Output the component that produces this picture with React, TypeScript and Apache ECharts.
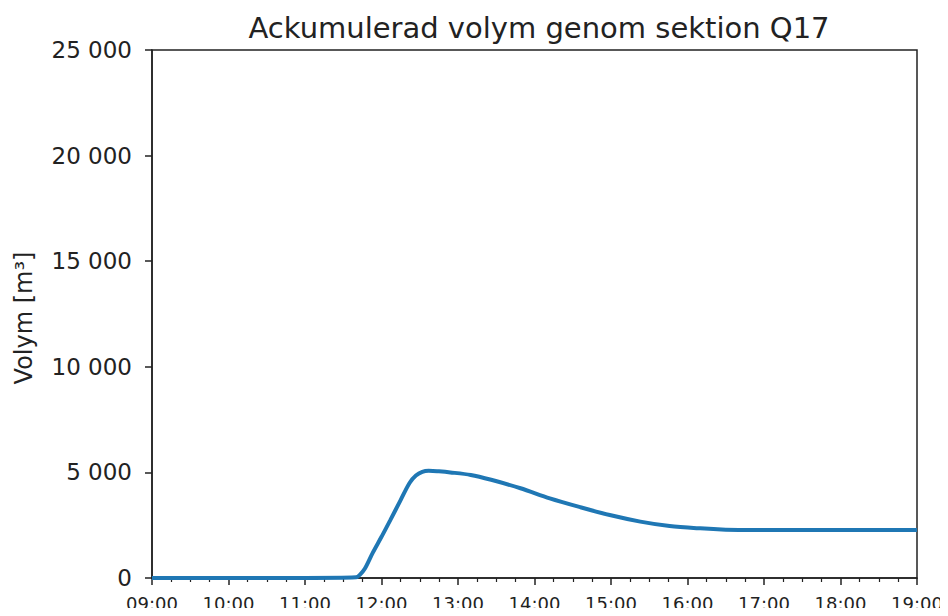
import React, { useEffect, useRef } from "react";
import * as echarts from "echarts";

const TITLE = "Ackumulerad volym genom sektion Q17";
const Y_NAME = "Volym [m³]";
const times = [
  "09:00", "11:00", "11:40", "11:43", "11:47", "11:53", "12:00", "12:07",
  "12:15", "12:22", "12:27", "12:32", "12:37", "12:45", "12:54", "13:10",
  "13:26", "13:49", "14:12", "14:36", "14:59", "15:23", "15:46", "16:10",
  "16:30", "16:50", "17:30", "19:00",
];
const volume = [
  0, 0, 30, 150, 450, 1180, 1950, 2750,
  3690, 4500, 4850, 5030, 5080, 5050, 5000, 4880,
  4650, 4250, 3770, 3350, 2980, 2670, 2460, 2350,
  2290, 2270, 2270, 2270,
];
const yTicks = [0, 5000, 10000, 15000, 20000, 25000];

const toHours = (t: string) => {
  const [h, m] = t.split(":").map(Number);
  return h + m / 60;
};

export default function App() {
  const ref = useRef<HTMLDivElement>(null);
  useEffect(() => {
    if (!ref.current) return;
    const chart = echarts.init(ref.current, undefined, { renderer: "svg" });
    const font = "DejaVu Sans";
    chart.setOption({
      animation: false,
      backgroundColor: "#fff",
      title: {
        text: TITLE,
        left: 534,
        textAlign: "center",
        top: 8,
        textStyle: { fontFamily: font, fontSize: 29, fontWeight: "normal", color: "#222" },
      },
      grid: {
        left: 152, right: 31, top: 50, bottom: 38,
        show: true, borderColor: "#222", borderWidth: 1.5, backgroundColor: "transparent",
      },
      graphic: [
        {
          type: "text",
          x: 24,
          y: 318,
          rotation: Math.PI / 2,
          style: {
            text: Y_NAME,
            font: `24px "${font}"`,
            fill: "#222",
            align: "center",
            verticalAlign: "middle",
          },
        },
      ],
      xAxis: {
        type: "value",
        min: 9,
        max: 19,
        interval: 1,
        axisLine: { show: true, lineStyle: { color: "#222", width: 1.5 } },
        axisTick: { show: true, inside: false, length: 7, lineStyle: { color: "#222", width: 1.5 } },
        minorTick: { show: true, splitNumber: 4, length: 4, lineStyle: { color: "#222", width: 1.2 } },
        splitLine: { show: false },
        axisLabel: {
          fontFamily: font, fontSize: 18, color: "#222", margin: 16,
          formatter: (v: number) => `${String(Math.round(v)).padStart(2, "0")}:00`,
        },
      },
      yAxis: {
        type: "value",
        min: 0,
        max: yTicks[yTicks.length - 1],
        interval: 5000,
        axisLine: { show: true, lineStyle: { color: "#222", width: 1.5 } },
        axisTick: { show: true, inside: false, length: 7, lineStyle: { color: "#222", width: 1.5 } },
        splitLine: { show: false },
        axisLabel: {
          fontFamily: font, fontSize: 23, color: "#222", margin: 20,
          formatter: (v: number) => String(v).replace(/\B(?=(\d{3})+(?!\d))/g, " "),
        },
      },
      series: [
        {
          type: "line",
          data: times.map((t, i) => [toHours(t), volume[i]]),
          showSymbol: false,
          smooth: 0.3,
          lineStyle: { color: "#1f77b4", width: 4 },
          clip: true,
        },
      ],
    });
    return () => chart.dispose();
  }, []);
  return <div ref={ref} style={{ width: 948, height: 616, margin: -8 }} />;
}
